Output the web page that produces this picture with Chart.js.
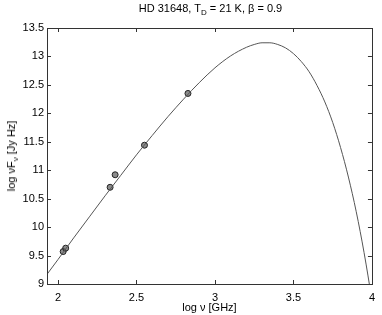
<!DOCTYPE html>
<html>
<head>
<meta charset="utf-8">
<script src="https://cdn.jsdelivr.net/npm/chart.js@4.4.0/dist/chart.umd.min.js"></script>
<style>
  body { margin: 0; background: #fff; }
  #wrap { position: relative; width: 382px; height: 315px; font-family: "Liberation Sans", Arial, sans-serif; }
  #title { position: absolute; left: 47px; width: 327px; top: 2px; text-align: center; font-size: 11px; color: #000; }
  #ylab { position: absolute; left: 11px; top: 156px; font-size: 11px; color: #000; white-space: nowrap;
          transform: translate(-50%, -50%) rotate(-90deg); }
  sub { font-size: 8px; vertical-align: -3px; line-height: 0; }
</style>
</head>
<body>
<div id="wrap">
  <canvas id="myChart" width="382" height="315"></canvas>
  <div id="title">HD 31648, T<sub>D</sub> = 21 K, β = 0.9</div>
  <div id="ylab">log νF<sub>ν</sub> [Jy Hz]</div>
</div>
<script>
// model curve (log nu, log nuFnu)
let curveX = [1.93, 2.0, 2.1, 2.2, 2.3, 2.4, 2.5, 2.6, 2.7, 2.8, 2.9, 3.0, 3.1, 3.2, 3.25, 3.3, 3.35, 3.4, 3.45, 3.5, 3.55, 3.6, 3.65, 3.7, 3.75, 3.8, 3.85, 3.9, 3.95, 4.0];
let curveY = [9.17, 9.43, 9.81, 10.18, 10.55, 10.91, 11.27, 11.61, 11.94, 12.25, 12.54, 12.80, 13.01, 13.16, 13.21, 13.24, 13.24, 13.21, 13.15, 13.05, 12.91, 12.73, 12.49, 12.20, 11.84, 11.40, 10.88, 10.27, 9.55, 8.72];

// measured points
let obsX = [2.033, 2.049, 2.332, 2.364, 2.551, 2.828];
let obsY = [9.57, 9.63, 10.70, 10.92, 11.44, 12.35];

let xTicks = [2, 2.5, 3, 3.5, 4];
let yTicks = [9, 9.5, 10, 10.5, 11, 11.5, 12, 12.5, 13, 13.5];

let curve = curveX.map((x, i) => ({x: x, y: curveY[i]}));
let obs = obsX.map((x, i) => ({x: x, y: obsY[i]}));

// box with inward ticks on all four sides, matlab style
let boxPlugin = {
    id: 'box',
    afterDraw(chart) {
        let ctx = chart.ctx;
        let a = chart.chartArea;
        let xs = chart.scales.x, ys = chart.scales.y;
        let len = 4;
        ctx.save();
        ctx.strokeStyle = '#333';
        ctx.lineWidth = 1;
        ctx.beginPath();
        xTicks.forEach(v => {
            let px = Math.round(xs.getPixelForValue(v)) + 0.5;
            ctx.moveTo(px, a.bottom); ctx.lineTo(px, a.bottom - len);
            ctx.moveTo(px, a.top); ctx.lineTo(px, a.top + len);
        });
        yTicks.forEach(v => {
            let py = Math.round(ys.getPixelForValue(v)) + 0.5;
            ctx.moveTo(a.left, py); ctx.lineTo(a.left + len, py);
            ctx.moveTo(a.right, py); ctx.lineTo(a.right - len, py);
        });
        ctx.stroke();
        ctx.strokeRect(Math.round(a.left) + 0.5, Math.round(a.top) + 0.5,
                       Math.round(a.right - a.left), Math.round(a.bottom - a.top));
        ctx.restore();
    }
};

let font = {family: '"Liberation Sans", Arial, sans-serif', size: 11};

let ctx = document.getElementById('myChart').getContext('2d');
let myChart = new Chart(ctx, {
    data: {
        datasets: [
            {
                type: 'line',
                label: 'model',
                data: curve,
                borderColor: '#555',
                borderWidth: 1,
                pointRadius: 0,
                cubicInterpolationMode: 'monotone',
                fill: false
            },
            {
                type: 'scatter',
                label: 'data',
                data: obs,
                pointStyle: 'circle',
                pointRadius: 3,
                borderWidth: 1,
                borderColor: '#222',
                backgroundColor: 'rgba(90,90,90,0.7)'
            }
        ]
    },
    options: {
        responsive: false,
        animation: false,
        layout: {padding: {top: 28, right: 8, left: 0, bottom: 0}},
        plugins: {legend: {display: false}, tooltip: {enabled: false}},
        scales: {
            x: {
                type: 'linear',
                min: 1.93,
                max: 4,
                grid: {display: false, drawTicks: false},
                border: {display: false},
                afterBuildTicks: s => { s.ticks = xTicks.map(v => ({value: v})); },
                afterFit: s => { s.height = 31; },
                ticks: {font: font, color: '#000', padding: 7, maxRotation: 0, callback: v => String(v)},
                title: {display: true, text: 'log ν [GHz]', font: font, color: '#000', padding: {top: 0, bottom: 0}}
            },
            y: {
                type: 'linear',
                min: 9,
                max: 13.5,
                grid: {display: false, drawTicks: false},
                border: {display: false},
                afterBuildTicks: s => { s.ticks = yTicks.map(v => ({value: v})); },
                afterFit: s => { s.width = 47; },
                ticks: {font: font, color: '#000', padding: 3, callback: v => String(v)}
            }
        }
    },
    plugins: [boxPlugin]
});
</script>
</body>
</html>
